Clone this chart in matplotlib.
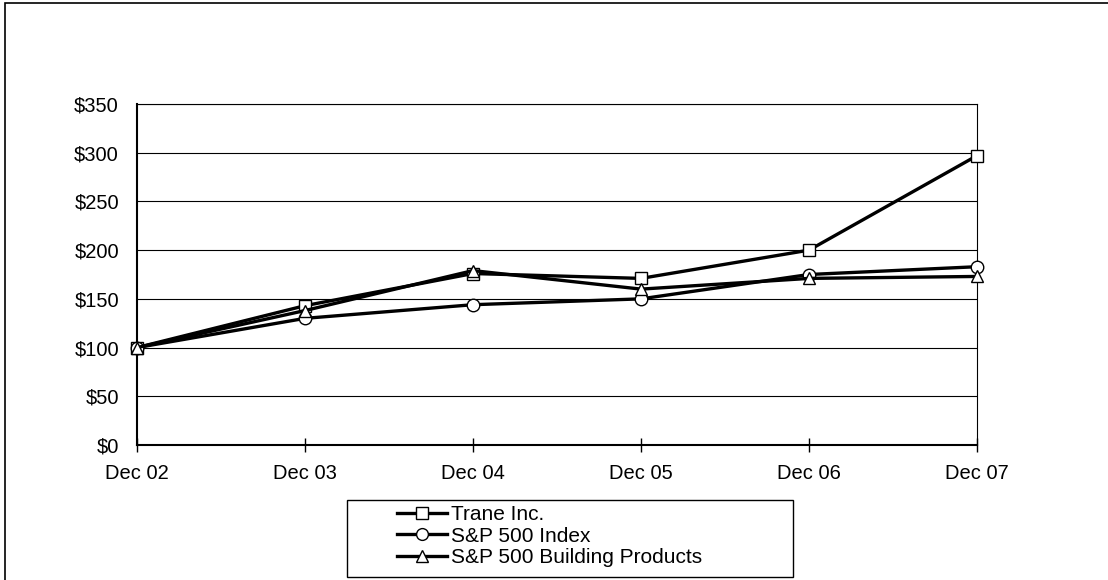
import matplotlib
matplotlib.use('Agg')
from matplotlib import pyplot as plt
from matplotlib.patches import Rectangle

years = ['Dec 02', 'Dec 03', 'Dec 04', 'Dec 05', 'Dec 06', 'Dec 07']
trane = [100, 143, 176, 171, 200, 297]
sp500 = [100, 130, 144, 150, 175, 183]
building = [100, 138, 179, 160, 171, 173]
y_ticks = [0, 50, 100, 150, 200, 250, 300, 350]

plt.rcParams['font.family'] = ['Liberation Sans', 'DejaVu Sans']

W, H = 1108, 580
fig = plt.figure(figsize=(W / 100, H / 100), dpi=100)
ax = fig.add_axes([137 / W, 135 / H, 840 / W, 341 / H])

# outer frame (only left and top visible in the reference)
fig.patches.append(Rectangle((5 / W, -0.1), 1.2, 0.1 + 577 / H,
                             transform=fig.transFigure, fill=False,
                             edgecolor='black', linewidth=1.2))
# legend box
fig.patches.append(Rectangle((347 / W, 3 / H), 446 / W, 77 / H,
                             transform=fig.transFigure, fill=False,
                             edgecolor='black', linewidth=1.0))

x = range(len(years))
series = [(trane, 's', 'Trane Inc.'),
          (sp500, 'o', 'S&P 500 Index'),
          (building, '^', 'S&P 500 Building Products')]
handles = []
for vals, mk, label in series:
    h, = ax.plot(x, vals, color='black', linewidth=2.4, marker=mk,
                 markersize=9, markerfacecolor='white',
                 markeredgecolor='black', markeredgewidth=1.0,
                 label=label, clip_on=False, zorder=3)
    handles.append(h)

ax.set_xlim(0, len(years) - 1)
ax.set_ylim(0, 350)
ax.set_yticks(y_ticks)
ax.set_yticklabels([f'${v}' for v in y_ticks])
ax.set_xticks(list(x))
ax.set_xticklabels(years)
ax.yaxis.grid(True, color='black', linewidth=0.8)
ax.set_axisbelow(True)

ax.tick_params(axis='y', length=0, pad=13, labelsize=14.5)
ax.tick_params(axis='x', direction='inout', length=10, width=1,
               pad=9, labelsize=14.5)
for s in ['left', 'bottom']:
    ax.spines[s].set_linewidth(1.5)
for s in ['top', 'right']:
    ax.spines[s].set_linewidth(0.8)

leg = fig.legend(handles=handles, loc='upper left',
                 bbox_to_anchor=(397 / W, 1 - 505 / H),
                 frameon=False, fontsize=15, handlelength=2.4,
                 handletextpad=0.2, labelspacing=0.12,
                 borderpad=0, borderaxespad=0)
for h in leg.legend_handles:
    h.set_markersize(8.5)
    h.set_linewidth(2.4)

fig.savefig('out.png', dpi=100)
